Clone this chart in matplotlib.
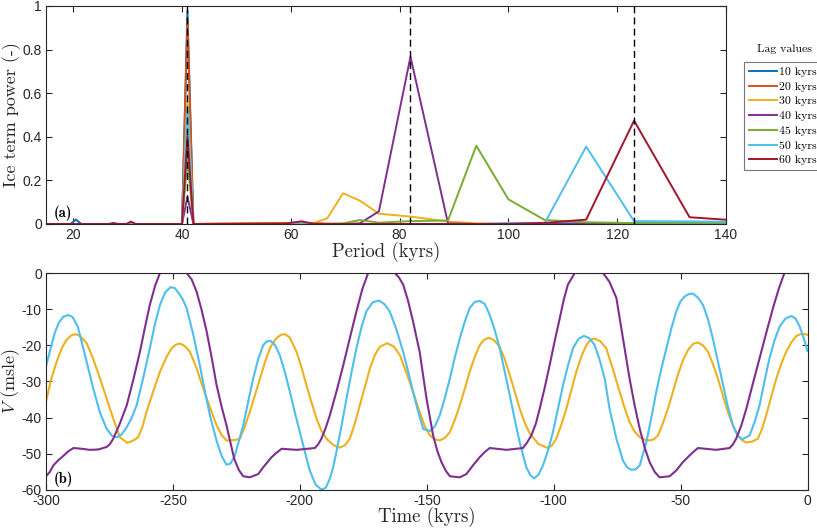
import matplotlib
matplotlib.use("Agg")
import matplotlib.pyplot as plt

plt.rcParams['mathtext.fontset'] = 'cm'
plt.rcParams['font.family'] = ['Liberation Sans', 'DejaVu Sans']
plt.rcParams['axes.unicode_minus'] = False

# ---------------- DATA: panel (a) ----------------
period = [15.0, 19.5, 20.5, 21.5, 26.5, 27.4, 28.3, 29.8, 30.6, 31.5, 40.0, 41.0, 42.1,
          59.3, 62.0, 64.0, 66.7, 69.6, 72.7, 76.2, 82.0, 88.9, 94.1, 100.0, 106.7,
          114.3, 123.1, 133.3, 145.5]
p10 = [0, 0, 0.02, 0, 0, 0, 0, 0, 0, 0, 0, 0.98, 0,
       0, 0, 0, 0, 0, 0, 0, 0, 0, 0, 0, 0.003, 0.003, 0.003, 0.003, 0.003]
p20 = [0, 0, 0, 0, 0, 0, 0, 0, 0, 0, 0, 0.94, 0,
       0.003, 0.004, 0.003, 0.002, 0, 0, 0, 0, 0, 0, 0, 0, 0, 0, 0, 0]
p30 = [0, 0, 0, 0, 0, 0, 0, 0, 0, 0, 0, 0.58, 0,
       0.005, 0.005, 0.002, 0.026, 0.141, 0.107, 0.047, 0.034, 0.011, 0.003, 0, 0, 0, 0, 0, 0]
p40 = [0, 0, 0, 0, 0, 0.005, 0, 0, 0, 0, 0, 0.125, 0,
       0, 0, 0, 0, 0, 0.003, 0.058, 0.767, 0.003, 0, 0, 0, 0, 0, 0, 0]
p45 = [0, 0, 0, 0, 0, 0, 0, 0, 0, 0, 0, 0.30, 0,
       0, 0, 0, 0, 0.003, 0.018, 0.006, 0.013, 0.016, 0.359, 0.113, 0.018, 0.008, 0.004, 0.003, 0.002]
p50 = [0, 0, 0, 0, 0, 0, 0, 0, 0.006, 0, 0, 0.54, 0,
       0, 0, 0, 0, 0, 0, 0, 0, 0, 0, 0.005, 0.005, 0.355, 0.013, 0.012, 0.008]
p60 = [0, 0, 0, 0, 0, 0, 0, 0, 0.011, 0, 0, 0.40, 0,
       0.003, 0.012, 0.002, 0, 0, 0, 0, 0, 0, 0, 0, 0.005, 0.02, 0.474, 0.031, 0.01]
lag_labels = ['10 kyrs', '20 kyrs', '30 kyrs', '40 kyrs', '45 kyrs', '50 kyrs', '60 kyrs']
dashed_periods = [41, 82, 123]

# ---------------- DATA: panel (b) ----------------
t30 = [-300, -298, -295.8, -293.8, -291.9, -290, -288.2, -286.3, -284, -281.5, -278.7,
       -276, -273.5, -270.9, -268, -265.5, -263.7, -262, -260.4, -257.7, -255.1, -252.5,
       -250.5, -248.8, -247.2, -245.3, -243.3, -240.7, -238.1, -235.4, -232.8, -230.8,
       -228.9, -225.6, -223.6, -221.7, -219.7, -217.7, -215.7, -213.7, -211.8, -209.5,
       -207.5, -205.9, -204, -201.3, -199.3, -197.4, -195.4, -193.4, -191.5, -189.5,
       -186.8, -184.3, -182.2, -180.3, -178.3, -176.4, -174.4, -172.4, -170.4, -168.5,
       -165.6, -163, -160.6, -158, -155.4, -152.8, -150.8, -148.8, -146.8, -144.9, -142.9,
       -140.9, -139, -137, -135, -133.1, -131.1, -129.1, -127.3, -125.5, -123.5, -121.3,
       -119.3, -117.3, -115.3, -113.4, -111.4, -109.4, -106, -102.2, -100.6, -99, -97,
       -95, -93, -91.1, -89.1, -87.1, -85.5, -83.9, -81.6, -79.3, -76.7, -74, -72,
       -70.1, -68.1, -66.1, -64.1, -62.2, -60.5, -58.9, -57, -55, -53, -51.1, -49.1,
       -47.1, -45.1, -43.2, -41.2, -39.2, -37.3, -35.3, -33.3, -31.4, -29.4, -27.4,
       -25.7, -24.1, -21.8, -19.6, -18, -16.3, -14.3, -12.3, -10.3, -8.4, -6.4, -4.4,
       -2.7, -1, 0]
v30 = [-35.6, -29.5, -24.5, -20.8, -18.5, -17.2, -16.9, -17.6, -19.4, -23.6, -29.2,
       -35, -40.3, -45.4, -47, -46.3, -45.4, -42.5, -38.4, -32.6, -27.3, -23.2,
       -20.8, -19.8, -19.5, -20.2, -21.8, -26.3, -31.9, -37.2, -42.1, -44.8,
       -46.3, -46.2, -45.8, -42.5, -38.4, -33.8, -29.2, -24.6, -20.8, -18.2,
       -17.1, -16.9, -17.8, -21.8, -26.2, -31, -35.8, -40.3, -43.6, -45.8,
       -47.6, -48.3, -47.6, -45.8, -41.5, -36.6, -31.4, -26.4, -22.6, -20.4,
       -19.4, -20.3, -22.7, -27.6, -32.9, -38.4, -42.3, -44.9, -46, -46.3, -45.6,
       -44, -40.7, -36.6, -32, -27.3, -23.2, -19.9, -18.4, -17.9, -18.6, -20.4,
       -23.8, -28.2, -32.9, -37.5, -41.4, -44.4, -47.3, -48.4, -47.6, -45.8, -42,
       -37.5, -32.3, -27.3, -23.1, -19.9, -18.5, -18.1, -18.9, -20.8, -26.5, -32.9, -37.4,
       -41.2, -43.9, -45.4, -46.1, -46.3, -46, -44.9, -41.6, -37.5, -32.8, -28.2, -24.2,
       -21.3, -19.6, -19.2, -20, -21.8, -25.1, -29.2, -33.9, -38.4, -42.2, -44.9,
       -46.3, -46.9, -46.6, -45.8, -43.3, -39.4, -34.2, -29.2, -25, -21.8, -19.2, -17.4,
       -16.9, -16.9, -17.1]

t40 = [-300, -298.5, -297.1, -295.2, -293.2, -291.2, -289.2, -286, -282.7, -279.4, -276.1,
       -274.8, -273.5, -271, -268.2, -265.6, -263, -261, -259.1, -257, -255.1, -244.6,
       -242.6, -240.7, -238.7, -236.7, -234.7, -232.8, -230.8, -228.9, -227.3, -225.8,
       -224, -222.3, -219.7, -216.4, -214.4, -211.1, -209, -207.2, -201.3, -194.1, -192.8,
       -191.5, -190, -188.2, -185.5, -182.9, -180.3, -177.7, -175.4, -173.1, -162.6,
       -161, -159.3, -157.4, -155.4, -152.8, -150.1, -147.5, -145.8, -144.2, -142.5,
       -140.9, -137, -134.4, -131.8, -129.1, -127, -125.2, -118.6, -112.1, -110.5, -108.8,
       -107, -105.5, -103.5, -101.6, -99.6, -97.6, -96, -94.4, -91.7, -80.6, -79.3, -78,
       -75.3, -72.7, -70.1, -68.1, -66.1, -64.1, -62.2, -60.2, -58.3, -54.3, -51.7,
       -49.1, -45.8, -43.2, -36, -30.7, -29.4, -28.1, -26.1, -24.1, -21.5, -18.9, -16.2,
       -13.6, -11.4, -9.1, 0]
v40 = [-56.2, -55, -53.2, -51.8, -50.6, -49.3, -48.4, -48.6, -48.9, -48.8, -48.1,
       -47.3, -45.8, -41.8, -36.6, -29.5, -21.8, -15, -8.8, -3.5, 0, 0,
       -1.8, -5.1, -10.2, -16.2, -23.5, -31, -37, -42.1, -47, -51.5,
       -54.5, -56.2, -56.5, -55.6, -53.7, -50.9, -49.6, -48.6, -48.9, -48.4, -47.4,
       -45.8, -43.2, -39.4, -32.6, -25.5, -18, -10.6, -4.5, 0, 0,
       -1.2, -3.2, -7.6, -13.4, -21.8, -34.7, -44.9, -49.3, -52.3, -54.7,
       -56.2, -56.5, -55.6, -53.2, -50.9, -49.4, -48.4, -48.9, -48.4, -46.9, -44.9,
       -41.6, -37.5, -31.6, -25.5, -18.8, -12.5, -7.3, -3.2, 0, 0, -1.2, -2.5,
       -6.9, -18.1, -29.2, -36.6, -43.1, -48.4, -52.3, -55, -56.5, -56.2, -54.6,
       -52.3, -50, -48.4, -48.9, -48.4, -47.4, -45.8, -42.2, -37.5, -30.5, -23.6, -16.4,
       -9.7, -4.5, 0, 0]

t50 = [-300, -298, -296.5, -295, -293.2, -291.2, -289.5, -287.5, -285.3, -283.3, -281.4,
       -278.8, -276.1, -274, -271.9, -270.2, -268.5, -266.4, -264.3, -261.7, -259.1,
       -257.1, -255.1, -253, -250.9, -249.2, -247.8, -246.2, -244.6, -242, -239.4,
       -237.4, -235.4, -232.8, -230.8, -228.9, -227.3, -225.6, -222.3, -220.3, -218.4,
       -216.4, -214.4, -213, -211.5, -209.8, -207.9, -205.9, -203.9, -202, -200, -198,
       -196.1, -193.8, -191.5, -189.8, -188.2, -186.9, -185.6, -183.6, -181.6, -179.6,
       -177.7, -175.7, -173.8, -171.3, -168.8, -166.7, -164.6, -162, -159.3, -157.3,
       -155.4, -153.4, -151.4, -148.8, -146.8, -144.9, -142.9, -140.9, -139, -137,
       -135, -133.1, -131.1, -129.1, -127.1, -125.2, -123.2, -121.3, -119.3, -117.3,
       -115.3, -113.4, -110.8, -109.2, -107.7, -106, -104.2, -102.2, -100.3, -98.3,
       -96.3, -94.3, -92.4, -90.2, -88.1, -86, -83.9, -81.9, -79.9, -78, -75.3, -72.7,
       -71, -69.4, -67.7, -66.1, -63.5, -61.5, -59.6, -57.6, -55.6, -53.6, -51.7, -50,
       -48.4, -46.7, -45.1, -43.2, -41.2, -39.2, -37.3, -35.3, -33.3, -31.3, -29.4,
       -27.5, -25.7, -22.8, -20.8, -18.9, -17, -15, -13, -11, -8.7, -6.4, -4.7, -3.1,
       -1.5, 0]
v50 = [-25.9, -20.3, -16.5, -13.8, -12.1, -11.6, -12.2, -14.8, -20.8, -26.5, -31.9,
       -38.5, -43.1, -45, -45.4, -44.6, -43, -40.3, -36.6, -29, -20.8,
       -14.2, -8.8, -5.3, -3.9, -4.2, -5.5, -7.2, -9.7, -17, -25.5,
       -32.7, -39.4, -46.4, -50.6, -53, -52.7, -50.5, -42.1, -35.4, -29.2,
       -23.8, -19.9, -18.9, -18.8, -19.9, -22.7, -27.4, -32.9, -38.5, -44, -49.5,
       -54.6, -58.5, -59.9, -59.4, -56.9, -53.8, -49.5, -42.3, -34.7, -27.3,
       -20.8, -14.9, -10.6, -8.1, -7.6, -8.6, -10.6, -15.5, -21.8, -27.3,
       -32.9, -38.3, -43.1, -43.7, -42.4, -39.4, -34.6, -29.2, -23.5, -18.1,
       -13.4, -9.7, -8, -7.7, -8.6, -11.6, -15.8, -20.8, -27.2, -33.8,
       -40.6, -46.8, -53.7, -55.9, -56.8, -55.8, -53.2, -49, -44, -37.5,
       -31, -25.4, -20.8, -18.2, -17.4, -18, -19.9, -24, -29.2, -37.5, -45.8, -51.9,
       -53.8, -54.4, -54.3, -53.2, -46.8, -39.9, -32.9, -26.5, -20.8, -15.2, -10.6, -7.8,
       -6.5, -5.8, -5.7, -6.8, -8.8, -12.8, -18.1, -24.5, -31, -37.2, -42.1,
       -45, -46, -44.9, -41.1, -36.6, -30.1, -23.6, -18.6, -14.8, -12.6, -11.9, -12.6, -14.8,
       -18, -21.6]

# ---------------- STYLE ----------------
colors = ['#0072BD', '#D95319', '#EDB120', '#7E2F8E', '#77AC30', '#4DBEEE', '#A2142F']
axcol = '#262626'
serif = 'cmr10'

fig = plt.figure(figsize=(8.17, 5.30), dpi=100)
ax1 = fig.add_axes([0.0563, 0.5774, 0.8323, 0.4113])
ax2 = fig.add_axes([0.0563, 0.0755, 0.9321, 0.4094])

series = [p10, p20, p30, p40, p45, p50, p60]
handles = []
for s, c, lab in zip(series, colors, lag_labels):
    h, = ax1.plot(period, s, color=c, lw=1.4, label=lab)
    handles.append(h)
for p in dashed_periods:
    ax1.axvline(p, color='black', lw=1.0, ls=(0, (5, 3)), zorder=5)

ax1.set_xlim(15, 140)
ax1.set_ylim(0, 1)
ax1.set_xticks([20, 40, 60, 80, 100, 120, 140])
ax1.set_yticks([0, 0.2, 0.4, 0.6, 0.8, 1])
ax1.set_yticklabels(['0', '0.2', '0.4', '0.6', '0.8', '1'])
ax1.set_xlabel('Period (kyrs)', fontsize=13.5, labelpad=0, color=axcol, family=serif)
ax1.set_ylabel('Ice term power (-)', fontsize=13, color=axcol, family=serif)
ax1.yaxis.set_label_coords(-0.037, 0.5)
ax1.text(0.012, 0.03, '(a)', transform=ax1.transAxes, fontsize=10.5, color='black',
         family='cmb10')

ax2.plot(t30, v30, color=colors[2], lw=1.5)
ax2.plot(t50, v50, color=colors[5], lw=1.5)
ax2.plot(t40, v40, color=colors[3], lw=1.5)
ax2.set_xlim(-300, 0)
ax2.set_ylim(-60, 0)
ax2.set_xticks([-300, -250, -200, -150, -100, -50, 0])
ax2.set_yticks([-60, -50, -40, -30, -20, -10, 0])
ax2.set_xlabel('Time (kyrs)', fontsize=13.5, labelpad=-1, color=axcol, family=serif)
ax2.set_ylabel(r'$V$ (msle)', fontsize=13, color=axcol, family=serif)
ax2.yaxis.set_label_coords(-0.031, 0.5)
ax2.text(0.01, 0.03, '(b)', transform=ax2.transAxes, fontsize=10.5, color='black',
         family='cmb10')

for ax in (ax1, ax2):
    for sp in ax.spines.values():
        sp.set_color(axcol)
        sp.set_linewidth(0.8)
    ax.tick_params(direction='in', length=4, width=0.8, colors=axcol, labelsize=10,
                   top=True, right=True, pad=3)

leg = fig.legend(handles=handles, loc='upper left', bbox_to_anchor=(0.9107, 0.883),
                 prop={'family': serif, 'size': 8.5}, frameon=True, fancybox=False,
                 edgecolor='#555555', handlelength=2.4, handletextpad=0.15, borderpad=0.4,
                 labelspacing=0.38, borderaxespad=0)
leg.get_frame().set_linewidth(0.8)
fig.text(0.9596, 0.9075, 'Lag values', fontsize=8.5, ha='center', va='center', family=serif)

fig.savefig('out.png', dpi=100)
